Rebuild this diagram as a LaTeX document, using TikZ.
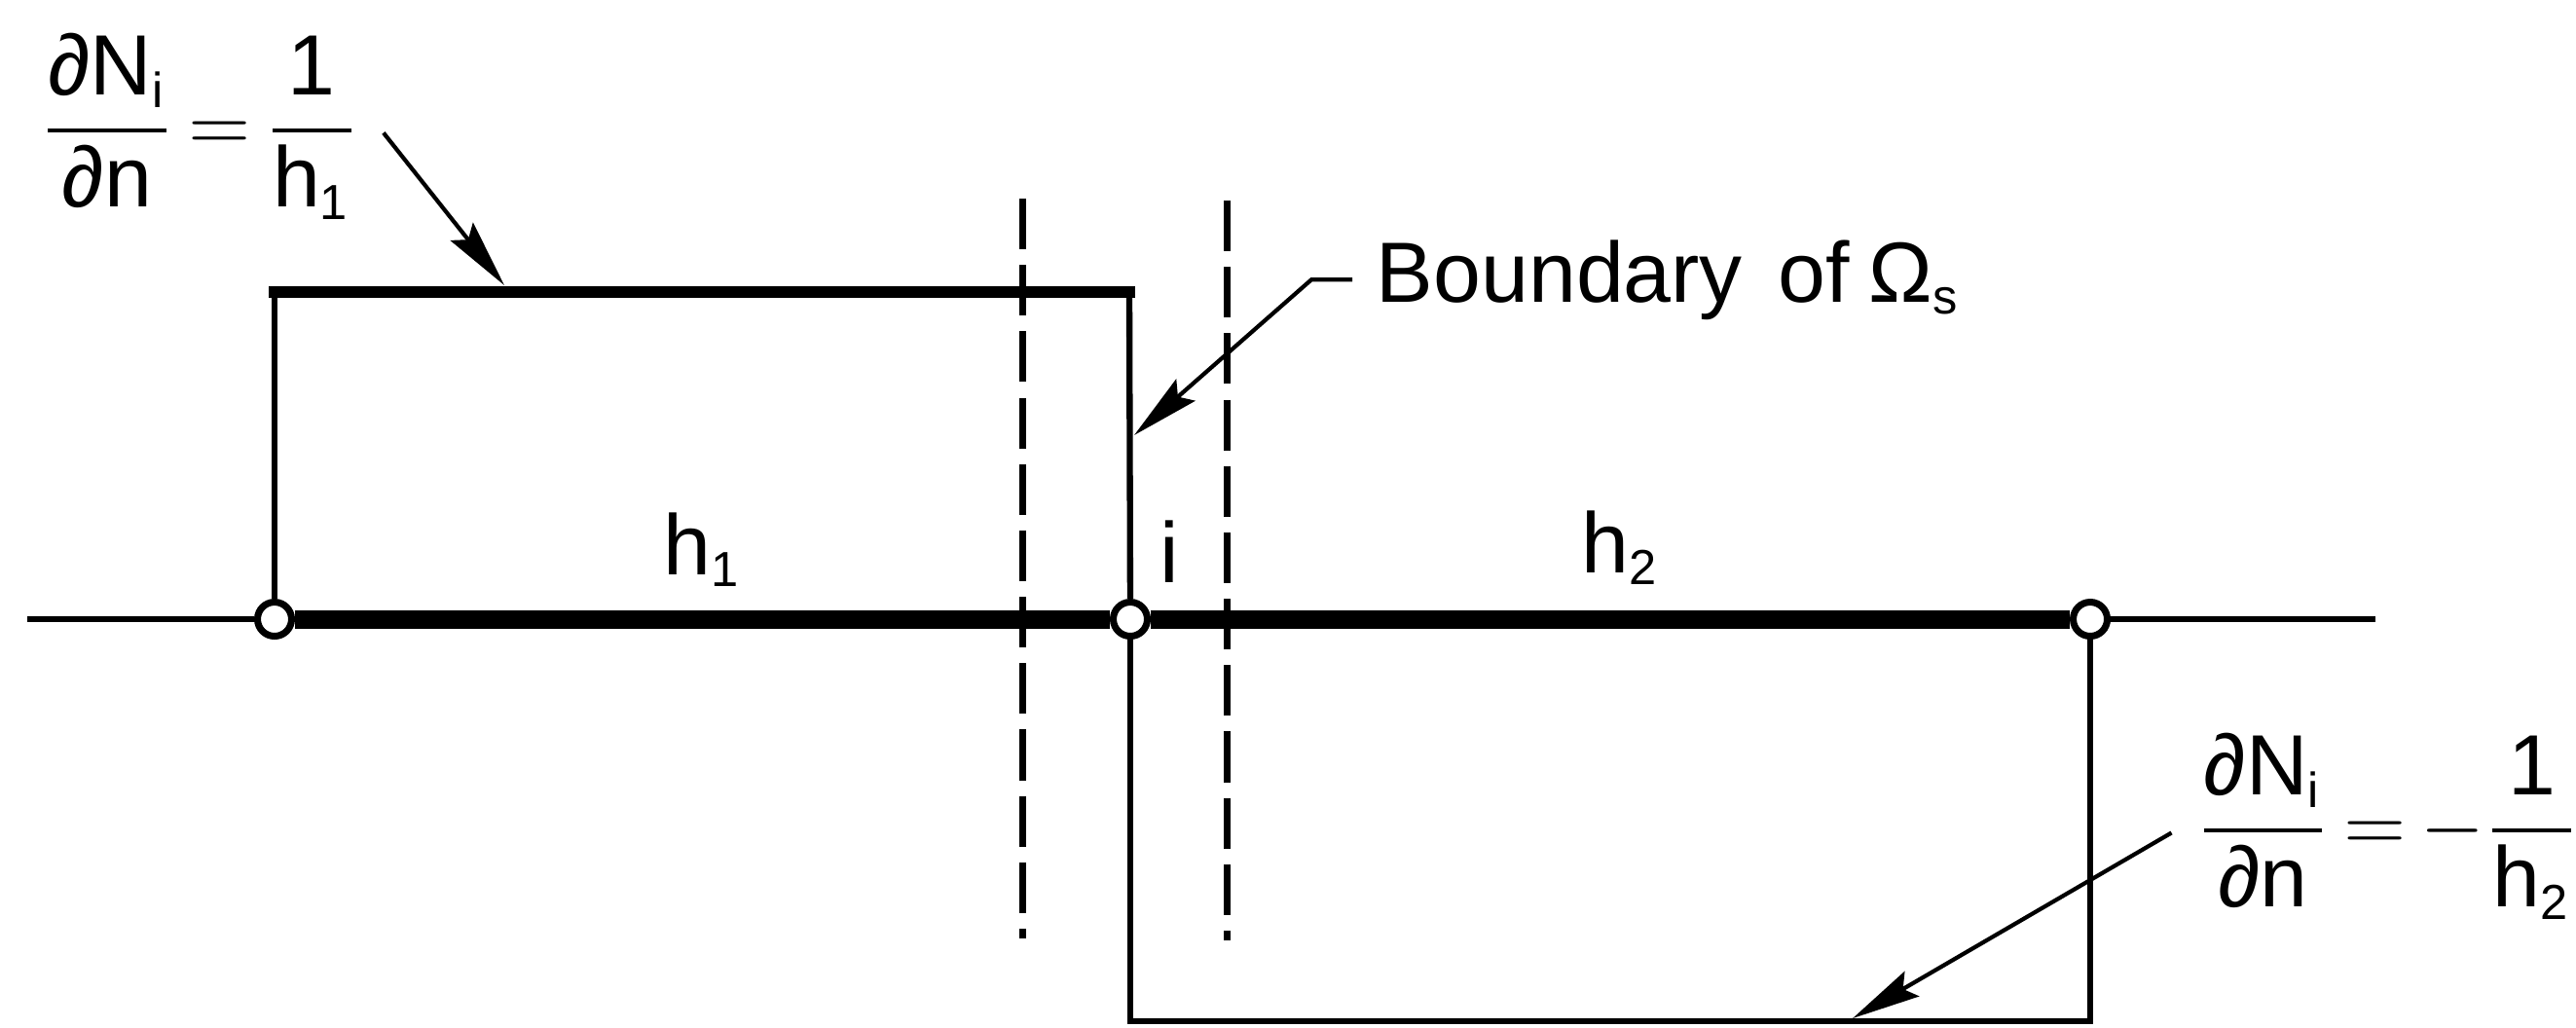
\documentclass[tikz,border=0pt]{standalone}
\usepackage{amsmath}
\usepackage{fontspec}
\setmainfont{Liberation Sans}
\DeclareMathSizes{12.5}{12.5}{7.2}{6}
\usepackage{tikz}
\usetikzlibrary{arrows.meta}

\begin{document}
\begin{tikzpicture}[x=0.5cm,y=0.5cm,
  font=\fontsize{12.5}{15}\selectfont,
  thinline/.style={line width=0.9pt},
  heavyline/.style={line width=2.7pt},
  stepline/.style={line width=1.7pt, line cap=rect},
  cutline/.style={line width=1pt, dash pattern=on 7.4pt off 2.3pt},
  pointer/.style={line width=0.6pt, -{Stealth[length=10pt,width=4.2pt,inset=1.5pt]}},
  nodept/.style={circle, draw, line width=1pt, fill=white, inner sep=0pt, minimum size=1.75mm},
  formula/.style={execute at begin node={\thickmuskip=3mu plus 2mu\relax}}]
\useasboundingbox (0,-4.19) rectangle (26.46,6.36);

\coordinate (axL) at (0.28,0);
\coordinate (axR) at (24.40,0);
\coordinate (ulc) at (2.82,3.36);
\coordinate (urc) at (11.60,3.36);
\coordinate (llc) at (11.61,-4.13);
\coordinate (lrc) at (21.47,-4.13);

% cut-off lines of the subdomain
\draw[cutline] (10.50,4.32) -- (10.50,-3.28);
\draw[cutline] (12.60,4.30) -- (12.60,-3.30);

\node[nodept] (nA) at (2.82,0) {};
\node[nodept] (ni) at (11.61,0) {};
\node[nodept] (nB) at (21.47,0) {};

\draw[thinline] (axL) -- (nA);
\draw[thinline] (nB) -- (axR);
\draw[heavyline] (nA) -- (ni) -- (nB);

\draw[thinline] (nA) -- (ulc);
\draw[stepline] (ulc) -- (urc);
\draw[thinline] (urc) -- (ni);
\draw[thinline] (ni) -- (llc) -- (lrc) -- (nB);

\node[anchor=base] (hA) at (7.22,0.46) {$\text{h}_{\text{1}}$};
\node[anchor=base] (hB) at (16.65,0.48) {$\text{h}_{\text{2}}$};
\node[anchor=base] (iLbl) at (12.01,0.38) {i};

\node[formula, anchor=base west] (lblA) at (0.16,4.81)
  {$\dfrac{\text{∂N}_{\text{i}}}{\text{∂n}}=\dfrac{\text{1}}{\text{h}_{\text{1}}}$};
\node[formula, anchor=base east] (lblB) at (26.74,-2.38)
  {$\dfrac{\text{∂N}_{\text{i}}}{\text{∂n}}=-\dfrac{\text{1}}{\text{h}_{\text{2}}}$};
\node[anchor=base west] (bnd) at (13.89,3.26) {Boundary\hspace{0.42em}of\hspace{0.22em}Ω\textsubscript{s}};

\coordinate (tipA) at (5.18,3.43);
\coordinate (tipB) at (19.03,-4.10);
\coordinate (tipC) at (11.65,1.89);

\draw[pointer] (lblA.mid east) -- (tipA);
\draw[pointer] (lblB.mid west) -- (tipB);
\draw[pointer] (bnd.west) -- ++(-0.42,0) -- (tipC);
\end{tikzpicture}
\end{document}
